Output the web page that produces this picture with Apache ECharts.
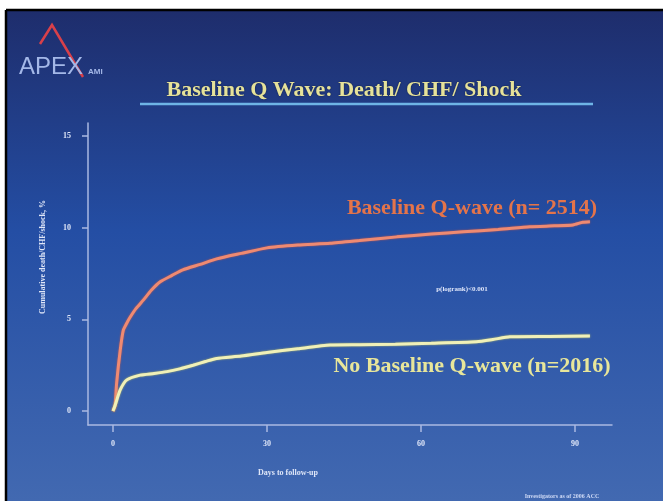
<!DOCTYPE html>
<html>
<head>
<meta charset="utf-8">
<script src="https://cdn.jsdelivr.net/npm/echarts@6/dist/echarts.min.js"></script>
<style>
html,body{margin:0;padding:0;background:#fff;}
#c{width:663px;height:501px;}
</style>
</head>
<body>
<div id="c"></div>
<script>
// ---- data ----
var xTicks = [0, 30, 60, 90];
var yTicks = [0, 5, 10, 15];
var qwaveDays = [0, 0.4, 0.7, 1.4, 2.0, 2.7, 3.3, 4.5, 5.9, 7.5, 9.2, 11.5, 13.6, 17, 20.2, 25, 30, 36, 42.3, 48, 55.3, 62, 68.2, 75, 81.2, 86, 89.6, 91.5, 92.9];
var qwaveRate = [0, 0.3, 1.5, 3.3, 4.4, 4.8, 5.1, 5.6, 6.05, 6.6, 7.05, 7.4, 7.7, 8.0, 8.3, 8.6, 8.9, 9.05, 9.15, 9.3, 9.5, 9.65, 9.78, 9.9, 10.05, 10.1, 10.15, 10.3, 10.33];
var noQwaveDays = [0, 0.4, 1.4, 2.7, 5.3, 8, 10.5, 13, 15.6, 18, 20.2, 25, 30, 36, 42.3, 48, 55, 62, 70.8, 74, 77.3, 85, 92.9];
var noQwaveRate = [0, 0.3, 1.15, 1.7, 1.96, 2.05, 2.15, 2.3, 2.5, 2.7, 2.87, 3.0, 3.2, 3.4, 3.6, 3.62, 3.65, 3.7, 3.78, 3.9, 4.05, 4.07, 4.09];
var titleText = 'Baseline Q Wave: Death/ CHF/ Shock';
var seriesLabels = ['Baseline Q-wave (n= 2514)', 'No Baseline Q-wave (n=2016)'];
var pText = 'p(logrank)<0.001';
var xName = 'Days to follow-up';
var yName = 'Cumulative death/CHF/shock, %';
var footText = 'Investigators as of 2006 ACC';

function pairs(xs, ys) { return xs.map(function (x, i) { return [x, ys[i]]; }); }

var chart = echarts.init(document.getElementById('c'), null, {renderer: 'canvas'});
var serif = '"Liberation Serif", "DejaVu Serif", serif';
var axisCol = '#aab9e2';
var labelCol = '#dfe6f8';

chart.setOption({
  backgroundColor: '#ffffff',
  animation: false,
  grid: {left: 88, right: 51, top: 123, bottom: 76},
  xAxis: {
    type: 'value', min: -4.87, max: 97.2,
    splitLine: {show: false},
    axisLine: {show: true, onZero: false, lineStyle: {color: axisCol, width: 1.5}},
    axisTick: {show: true, length: 7, lineStyle: {color: axisCol, width: 1.5}, customValues: xTicks},
    axisLabel: {color: labelCol, fontFamily: serif, fontWeight: 'bold', fontSize: 8, margin: 15, customValues: xTicks}
  },
  yAxis: {
    type: 'value', min: -0.76, max: 15.71,
    splitLine: {show: false},
    axisLine: {show: true, onZero: false, lineStyle: {color: axisCol, width: 1.5}},
    axisTick: {show: true, length: 6, lineStyle: {color: axisCol, width: 1.5}, customValues: yTicks},
    axisLabel: {color: labelCol, fontFamily: serif, fontWeight: 'bold', fontSize: 8, margin: 17, customValues: yTicks}
  },
  graphic: [
    {type: 'rect', z: -10, silent: true, shape: {x: 6, y: 10, width: 657, height: 491},
     style: {fill: new echarts.graphic.LinearGradient(0, 0, 0, 1, [
       {offset: 0, color: '#1e2d6c'}, {offset: 0.45, color: '#244ea4'}, {offset: 1, color: '#4269b1'}])}},
    {type: 'line', z: -5, shape: {x1: 6, y1: 10, x2: 663, y2: 10}, style: {stroke: '#000', lineWidth: 2.5}},
    {type: 'line', z: -5, shape: {x1: 6, y1: 10, x2: 6, y2: 501}, style: {stroke: '#000', lineWidth: 2.5}},
    // logo
    {type: 'polyline', shape: {points: [[40, 44], [52, 25], [83, 77]]}, style: {stroke: '#d8404a', lineWidth: 2.5, fill: null}},
    {type: 'text', style: {x: 19, y: 67, text: 'APEX', fill: '#a4b8e8', font: '24px "Liberation Sans", Arial, sans-serif', textVerticalAlign: 'middle'}},
    {type: 'text', style: {x: 88, y: 72, text: 'AMI', fill: '#a4b8e8', font: 'bold 8px "Liberation Sans", Arial, sans-serif', textVerticalAlign: 'middle'}},
    // title
    {type: 'text', style: {x: 344, y: 90, text: titleText, fill: '#e6e29a', font: 'bold 22px ' + serif, textAlign: 'center', textVerticalAlign: 'middle', textShadowColor: 'rgba(0,0,0,0.5)', textShadowBlur: 2}},
    {type: 'line', shape: {x1: 140, y1: 104, x2: 593, y2: 104}, style: {stroke: '#6eb4e6', lineWidth: 2.5}},
    // series labels
    {type: 'text', style: {x: 472, y: 208, text: seriesLabels[0], fill: '#e4744a', font: 'bold 22px ' + serif, textAlign: 'center', textVerticalAlign: 'middle'}},
    {type: 'text', style: {x: 472, y: 366, text: seriesLabels[1], fill: '#e8e69a', font: 'bold 22px ' + serif, textAlign: 'center', textVerticalAlign: 'middle'}},
    {type: 'text', style: {x: 462, y: 289, text: pText, fill: '#dfe6fa', font: 'bold 7px ' + serif, textAlign: 'center', textVerticalAlign: 'middle'}},
    // axis names
    {type: 'text', rotation: Math.PI / 2, x: 43, y: 257, style: {x: 0, y: 0, text: yName, fill: labelCol, font: 'bold 8px ' + serif, textAlign: 'center', textVerticalAlign: 'middle'}},
    {type: 'text', style: {x: 288, y: 473, text: xName, fill: labelCol, font: 'bold 8px ' + serif, textAlign: 'center', textVerticalAlign: 'middle'}},
    {type: 'text', style: {x: 562, y: 496, text: footText, fill: '#cfdaf6', font: 'bold 6px ' + serif, textAlign: 'center', textVerticalAlign: 'middle'}}
  ],
  series: [
    {type: 'line', data: pairs(qwaveDays, qwaveRate), showSymbol: false, smooth: 0.2,
     lineStyle: {color: '#ee8a72', width: 3, shadowColor: 'rgba(230,90,60,0.8)', shadowBlur: 2}},
    {type: 'line', data: pairs(noQwaveDays, noQwaveRate), showSymbol: false, smooth: 0.2,
     lineStyle: {color: '#f0f0b8', width: 3, shadowColor: 'rgba(210,210,90,0.8)', shadowBlur: 2}}
  ]
});
</script>
</body>
</html>
